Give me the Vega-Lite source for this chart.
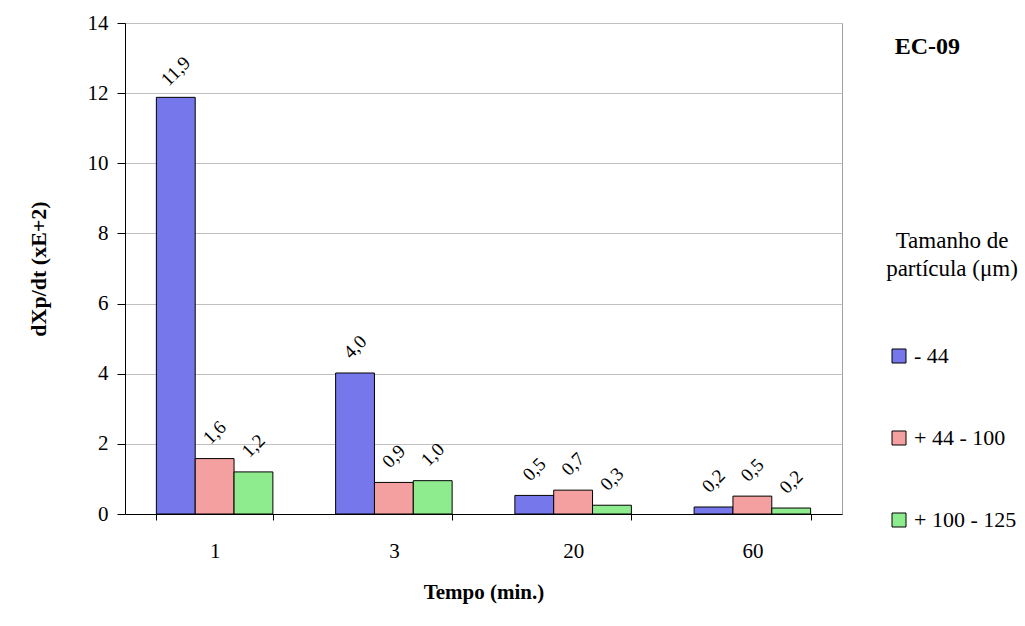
{
  "$schema": "https://vega.github.io/schema/vega-lite/v6.json",
  "width": 717,
  "height": 491,
  "autosize": "none",
  "padding": {"left": 125, "top": 23, "right": 183, "bottom": 112},
  "background": "white",
  "title": {"text": "EC-09", "frame": "group", "anchor": "end", "orient": "top", "dx": 118, "dy": 51, "font": "Liberation Serif", "fontSize": 24, "fontWeight": "bold", "color": "black"},
  "config": {
    "view": {"stroke": "#a0a0a0", "strokeWidth": 1},
    "font": "Liberation Serif",
    "axis": {"labelFont": "Liberation Serif", "titleFont": "Liberation Serif"},
    "legend": {"labelFont": "Liberation Serif", "titleFont": "Liberation Serif"},
    "text": {"font": "Liberation Serif"}
  },
  "data": {
    "values": [
      {"tempo": "1", "size": "- 44", "value": 11.88, "label": "11,9"},
      {"tempo": "1", "size": "+ 44 - 100", "value": 1.58, "label": "1,6"},
      {"tempo": "1", "size": "+ 100 - 125", "value": 1.2, "label": "1,2"},
      {"tempo": "3", "size": "- 44", "value": 4.02, "label": "4,0"},
      {"tempo": "3", "size": "+ 44 - 100", "value": 0.9, "label": "0,9"},
      {"tempo": "3", "size": "+ 100 - 125", "value": 0.95, "label": "1,0"},
      {"tempo": "20", "size": "- 44", "value": 0.53, "label": "0,5"},
      {"tempo": "20", "size": "+ 44 - 100", "value": 0.68, "label": "0,7"},
      {"tempo": "20", "size": "+ 100 - 125", "value": 0.25, "label": "0,3"},
      {"tempo": "60", "size": "- 44", "value": 0.2, "label": "0,2"},
      {"tempo": "60", "size": "+ 44 - 100", "value": 0.51, "label": "0,5"},
      {"tempo": "60", "size": "+ 100 - 125", "value": 0.17, "label": "0,2"}
    ]
  },
  "encoding": {
    "x": {
      "field": "tempo", "type": "ordinal", "sort": ["1", "3", "20", "60"],
      "scale": {"paddingInner": 0.35, "paddingOuter": 0.175},
      "axis": {
        "title": "Tempo (min.)", "titleFont": "Liberation Serif", "titleFontSize": 21, "titleFontWeight": "bold", "titleColor": "black", "titlePadding": 20,
        "labelAngle": 0, "labelFont": "Liberation Serif", "labelFontSize": 21, "labelColor": "black", "labelPadding": 20,
        "tickBand": "extent", "tickColor": "black", "tickSize": 6, "domainColor": "black", "grid": false
      }
    },
    "xOffset": {"field": "size", "type": "nominal", "sort": ["- 44", "+ 44 - 100", "+ 100 - 125"]},
    "y": {
      "field": "value", "type": "quantitative",
      "scale": {"domain": [0, 14]},
      "axis": {
        "values": [0, 2, 4, 6, 8, 10, 12, 14],
        "title": "dXp/dt (xE+2)", "titleFont": "Liberation Serif", "titleFontSize": 22, "titleFontWeight": "bold", "titleColor": "black", "titlePadding": 37,
        "labelFont": "Liberation Serif", "labelFontSize": 21, "labelColor": "black", "labelPadding": 9,
        "tickColor": "black", "tickSize": 8, "domainColor": "black", "gridColor": "#c0c0c0"
      }
    }
  },
  "layer": [
    {
      "mark": {"type": "bar", "stroke": "black", "strokeWidth": 1, "opacity": 1},
      "encoding": {
        "color": {
          "field": "size", "type": "nominal",
          "scale": {"domain": ["- 44", "+ 44 - 100", "+ 100 - 125"], "range": ["#7777ec", "#f5a0a0", "#8eec8e"]},
          "legend": {
            "orient": "none", "legendX": 761, "legendY": 207,
            "title": ["Tamanho de", "partícula (μm)"],
            "titleFont": "Liberation Serif", "titleFontSize": 23, "titleFontWeight": "normal", "titleColor": "black",
            "titleLineHeight": 28, "titleAlign": "center", "titleAnchor": "middle", "titlePadding": 64,
            "labelFont": "Liberation Serif", "labelFontSize": 22, "labelColor": "black", "labelOffset": 4,
            "symbolType": "square", "symbolSize": 196, "symbolStrokeColor": "black", "symbolStrokeWidth": 1, "symbolOpacity": 1,
            "rowPadding": 60
          }
        }
      }
    },
    {
      "mark": {"type": "text", "angle": 315, "align": "center", "baseline": "middle", "yOffset": -26, "font": "Liberation Serif", "fontSize": 19, "color": "black"},
      "encoding": {"text": {"field": "label"}}
    }
  ]
}
